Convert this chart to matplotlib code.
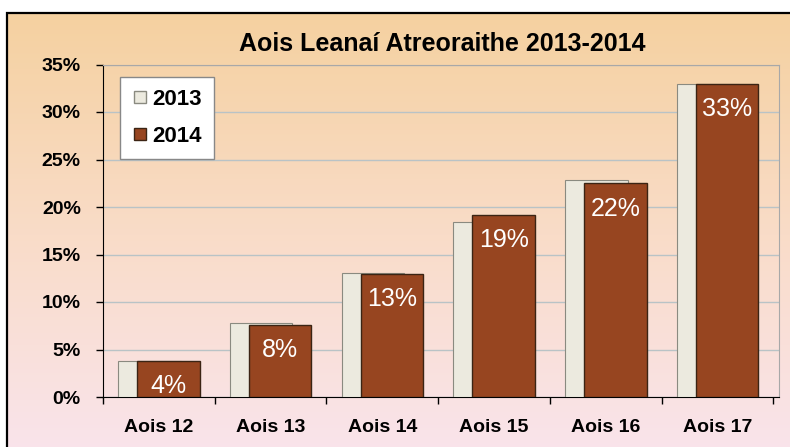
import numpy as np
import matplotlib
matplotlib.use("Agg")
import matplotlib.pyplot as plt
from matplotlib.patches import Rectangle
from matplotlib.lines import Line2D

categories = ["Aois 12", "Aois 13", "Aois 14", "Aois 15", "Aois 16", "Aois 17"]
vals_2013 = [3.8, 7.8, 13.1, 18.4, 22.8, 33.0]
vals_2014 = [3.8, 7.6, 13.0, 19.2, 22.5, 33.0]
labels_2014 = ["4%", "8%", "13%", "19%", "22%", "33%"]
yticks = [0, 5, 10, 15, 20, 25, 30, 35]
title = "Aois Leanaí Atreoraithe 2013-2014"

plt.rcParams['font.family'] = ['Liberation Sans', 'DejaVu Sans']

W, H = 790, 447
fig = plt.figure(figsize=(W / 100, H / 100), dpi=100)
fig.patch.set_facecolor("white")

# background gradient
bg = fig.add_axes([0, 0, 1, 1])
bg.set_axis_off()
top = np.array([245, 209, 160]) / 255
mid = np.array([249, 220, 200]) / 255
bot = np.array([250, 228, 236]) / 255
t = np.linspace(0, 1, 256)[:, None]
grad = np.where(t < 0.5, top + (mid - top) * (t / 0.5), mid + (bot - mid) * ((t - 0.5) / 0.5))
img = np.repeat(grad[:, None, :], 2, axis=1)
bg.imshow(img, extent=[7 / W, 1.02, -0.02, 1 - 13 / H], aspect="auto", zorder=0)
bg.set_xlim(0, 1)
bg.set_ylim(0, 1)
bg.add_patch(Rectangle((7 / W, -0.05), 1.1, 1 - 13 / H + 0.05, fill=False,
                       edgecolor="black", linewidth=1.6, zorder=2))

# main axes
left, right, top_y, bottom_y = 103, 779, 64.5, 397
ax = fig.add_axes([left / W, 1 - bottom_y / H, (right - left) / W, (bottom_y - top_y) / H])
ax.patch.set_alpha(0)

x = np.arange(len(categories))
ax.bar(x - 0.085, vals_2013, width=0.56, color="#ECEADF", edgecolor="#8a8a80",
       linewidth=0.8, zorder=3, label="2013")
ax.bar(x + 0.085, vals_2014, width=0.56, color="#974520", edgecolor="#3b2414",
       linewidth=1.0, zorder=4, label="2014")
for xi, v, lab in zip(x, vals_2014, labels_2014):
    ax.text(xi + 0.085, v - 1.4, lab, ha="center", va="top", color="white",
            fontsize=18, zorder=5)

ax.set_ylim(0, 35)
ax.set_xlim(-0.5, 5.55)
ax.set_yticks(yticks)
ax.set_yticklabels([f"{v}%" for v in yticks], fontsize=14, fontweight="bold")
ax.set_xticks(np.arange(-0.5, 6, 1.0))
ax.set_xticklabels([])
ax.set_xticks(x, minor=True)
ax.set_xticklabels(categories, minor=True, fontsize=14, fontweight="bold")
ax.tick_params(axis="x", which="major", length=5, width=1, color="black", direction="out")
ax.tick_params(axis="x", which="minor", length=0, pad=16)
ax.tick_params(axis="y", length=5, width=1, color="black", pad=11)
ax.yaxis.grid(True, color="#B9C3C6", linewidth=1)
ax.set_axisbelow(True)
for s in ["top", "right"]:
    ax.spines[s].set_color("#A8A8A8")
ax.spines["left"].set_color("black")
ax.spines["bottom"].set_color("black")

fig.text(442 / W, 1 - 44 / H, title, ha="center", va="center", fontsize=18,
         fontweight="bold")

handles = [Line2D([], [], marker="s", linestyle="none", markersize=9,
                  markerfacecolor="#ECEADF", markeredgecolor="#8a8a80"),
           Line2D([], [], marker="s", linestyle="none", markersize=9,
                  markerfacecolor="#974520", markeredgecolor="#3b2414")]
leg = fig.legend(handles, ["2013", "2014"], loc="upper left",
                 bbox_to_anchor=(120 / W, 1 - 77 / H), borderaxespad=0, frameon=True,
                 fancybox=False, edgecolor="#888888", facecolor="white", framealpha=1,
                 handlelength=0.7, handletextpad=0.2, borderpad=0.55, labelspacing=0.7,
                 prop={"weight": "bold", "size": 16})
leg.get_frame().set_linewidth(1)

fig.savefig("out.png", dpi=100)
